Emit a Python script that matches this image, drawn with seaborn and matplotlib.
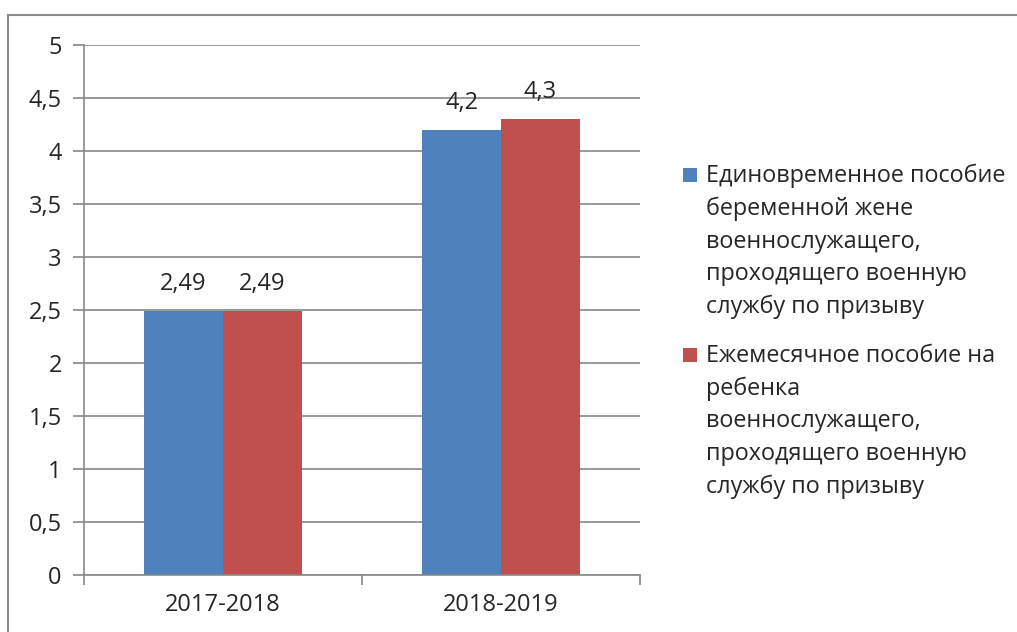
import matplotlib
matplotlib.use("Agg")
import matplotlib.pyplot as plt
import seaborn as sns
import pandas as pd
from matplotlib.patches import Rectangle
from matplotlib.ticker import MultipleLocator, FixedLocator, FuncFormatter

categories = ["2017-2018", "2018-2019"]
series_names = [
    "Единовременное пособие\nбеременной жене\nвоеннослужащего,\nпроходящего военную\nслужбу по призыву",
    "Ежемесячное пособие на\nребенка\nвоеннослужащего,\nпроходящего военную\nслужбу по призыву",
]
series1 = [2.49, 4.2]
series2 = [2.49, 4.3]
colors = ["#4F81BD", "#C0504D"]

sns.set_theme(style="white")
plt.rcParams["font.family"] = ["Open Sans", "DejaVu Sans"]

rows = []
for c, v in zip(categories, series1):
    rows.append({"cat": c, "val": v, "series": series_names[0]})
for c, v in zip(categories, series2):
    rows.append({"cat": c, "val": v, "series": series_names[1]})
df = pd.DataFrame(rows)

W, H = 1017, 632
fig = plt.figure(figsize=(W / 100, H / 100), dpi=100)
ax = fig.add_axes([84 / W, 1 - 575 / H, (640 - 84) / W, (575 - 45) / H])

sns.barplot(data=df, x="cat", y="val", hue="series", palette=colors,
            width=158 / 278, ax=ax, legend=False, saturation=1, errorbar=None,
            linewidth=0, edgecolor="none")

grid_c = "#888888"
ax.set_ylim(0, 5)
ax.set_xlim(-0.5, 1.5)
ax.yaxis.set_major_locator(MultipleLocator(0.5))
ax.yaxis.set_major_formatter(FuncFormatter(lambda v, p: (f"{v:g}").replace(".", ",")))
ax.grid(axis="y", color=grid_c, linewidth=1.2)
ax.set_axisbelow(True)
for s in ["top", "right"]:
    ax.spines[s].set_visible(False)
for s in ["left", "bottom"]:
    ax.spines[s].set_color(grid_c)
    ax.spines[s].set_linewidth(1.2)
ax.set_xlabel("")
ax.set_ylabel("")
ax.tick_params(axis="y", length=8, width=1.2, color=grid_c, labelsize=17, pad=8, left=True)
ax.tick_params(axis="x", which="major", length=0, labelsize=17, pad=13)
ax.xaxis.set_minor_locator(FixedLocator([-0.5, 0.5, 1.5]))
ax.tick_params(axis="x", which="minor", length=7, width=1.2, color=grid_c, bottom=True)

for cont in ax.containers:
    ax.bar_label(cont, labels=[(f"{b.get_height():g}").replace(".", ",") for b in cont],
                 padding=11, fontsize=17)

# legend drawn manually (Excel style: marker at first line)
leg_y = [175, 355]
for col, name, yy in zip(colors, series_names, leg_y):
    fig.add_artist(Rectangle((683 / W, 1 - (yy + 7) / H), 14 / W, 14 / H,
                             transform=fig.transFigure, color=col, lw=0))
    fig.text(706 / W, 1 - (yy - 11) / H, name, ha="left", va="top", fontsize=16.8,
             linespacing=1.47, transform=fig.transFigure)

# outer chart border
fig.add_artist(Rectangle((8 / W, -0.1), 1.2, 1 - 15 / H + 0.1, transform=fig.transFigure,
                         fill=False, edgecolor="#8c8c8c", lw=1.5))

fig.savefig("out.png", dpi=100)
